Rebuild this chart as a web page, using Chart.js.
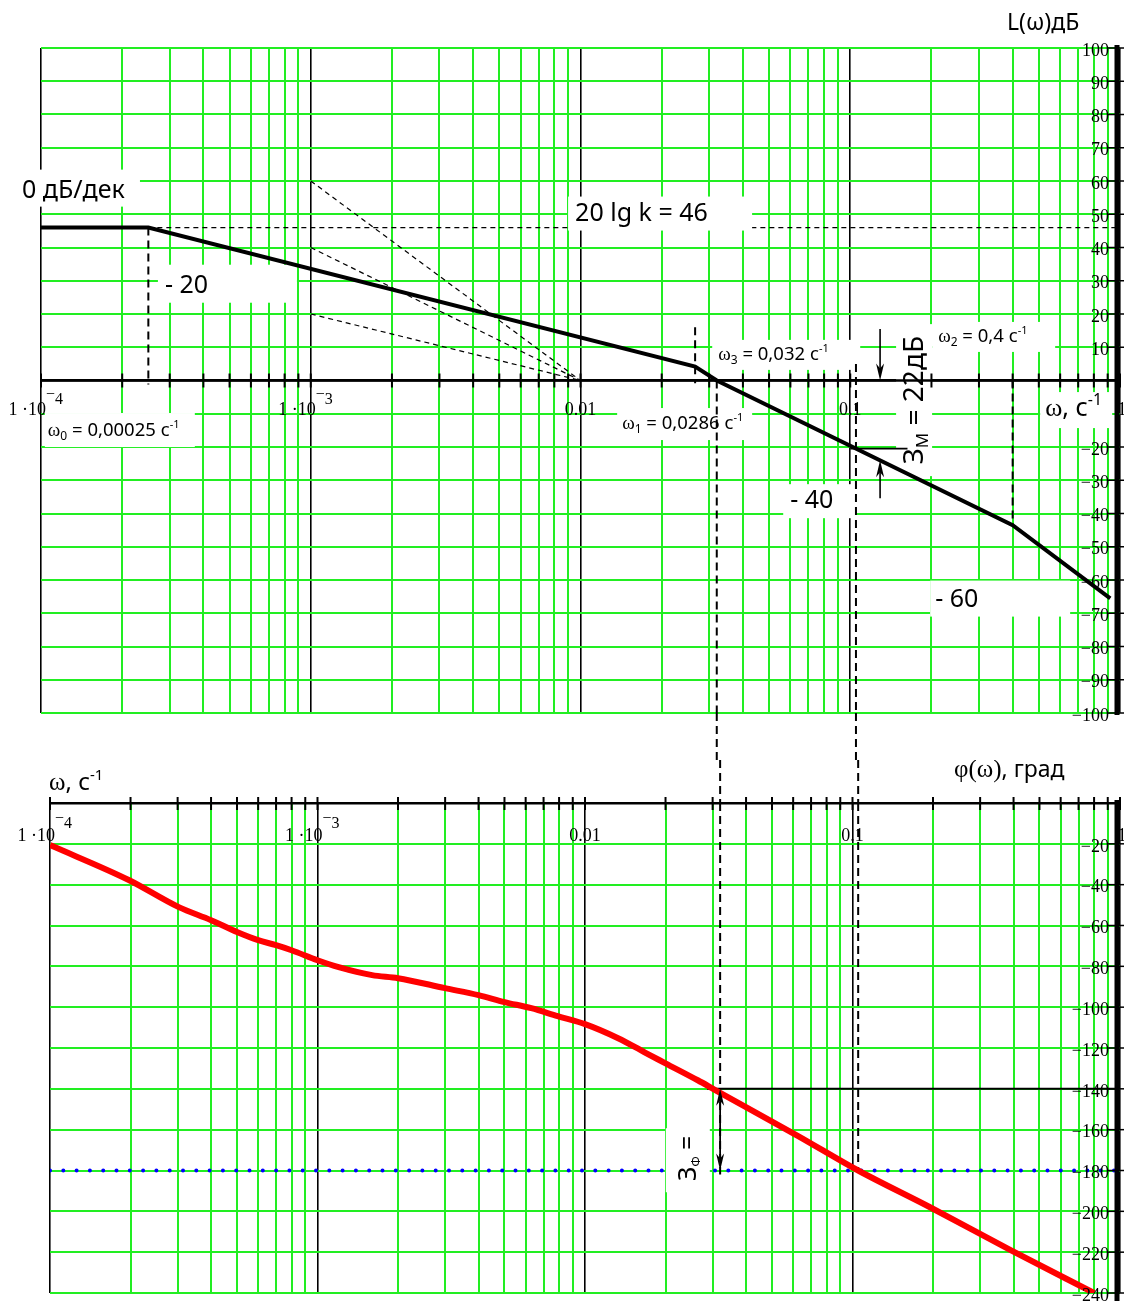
<!DOCTYPE html>
<html lang="ru">
<head>
<meta charset="utf-8">
<title>ЛАЧХ и ЛФЧХ</title>
<script src="https://cdn.jsdelivr.net/npm/chart.js@4.4.1/dist/chart.umd.min.js"></script>
<style>
  html, body { margin: 0; padding: 0; background: #fff; }
  body { width: 1124px; height: 1301px; position: relative; overflow: hidden; }
  canvas { position: absolute; left: 0; }
  #amp { top: 0; }
  #phase { top: 760px; }
</style>
</head>
<body>
<canvas id="amp" width="1124" height="760"></canvas>
<canvas id="phase" width="1124" height="541"></canvas>
<script>
// ---------- values ----------
// frequency axis (rad/s), decade labels
const decadeValues   = [1e-4, 1e-3, 1e-2, 1e-1, 1];
const decadeMantissa = ['1 ·10', '1 ·10', '0.01', '0.1', '1'];
const decadeExponent = ['−4', '−3', '', '', ''];

// amplitude axis labels, dB
const ampTickValues = [100, 90, 80, 70, 60, 50, 40, 30, 20, 10, -20, -30, -40, -50, -60, -70, -80, -90, -100];
// phase axis labels, degrees
const phaseTickValues = [-20, -40, -60, -80, -100, -120, -140, -160, -180, -200, -220, -240];

// asymptotic log-magnitude characteristic: corner points
const ampOmega = [1e-4, 0.00025, 0.0266, 0.032, 0.4, 0.92];
const ampDb    = [46, 46, 4.2, 0, -43.5, -65.5];

// log-phase characteristic
const phaseOmega = [1e-4, 1.97e-4, 3.03e-4, 4e-4, 5e-4, 6e-4, 7e-4, 8e-4, 1e-3, 1.2e-3, 1.6e-3, 2e-3,
                    3e-3, 4e-3, 5e-3, 6.3e-3, 7.9e-3, 0.01, 0.0133, 0.0167, 0.02, 0.0264, 0.0308,
                    0.0624, 0.105, 0.195, 0.39, 0.8];
const phaseDeg   = [-20.6, -37.7, -51.0, -57.4, -63.2, -67.2, -69.6, -72.1, -77.0, -80.4, -84.3, -85.8,
                    -90.7, -94.1, -97.5, -100.5, -104.4, -108.3, -115.2, -122.1, -127.5, -135.8, -140.7,
                    -163, -180, -198, -219, -240];

// characteristic frequencies and levels
const omega0    = 0.00025;
const omega1    = 0.0286;
const omegaKnee = 0.0266;
const omegaCut  = 0.032;
const omega2    = 0.4;
const omegaPi   = 0.105;
const gainDb    = 46;
const phaseAtCut = -140;
const slopeTemplates = [60, 40, 20];   // dB at 1e-3, all meeting 0 dB at 0.01

// ---------- styling ----------
const GREEN = '#22ee22';
const SERIF = '"Liberation Serif","Times New Roman",serif';
const SANS  = '"Noto Sans","Open Sans",sans-serif';
const BIG   = '25px ' + SANS;

const gridOmega = [];
for (let d = -4; d < 0; d++) for (let m = 1; m < 10; m++) gridOmega.push(m * Math.pow(10, d));
gridOmega.push(1);
const isDecade = v => Math.abs(Math.log10(v) - Math.round(Math.log10(v))) < 1e-9;

function logX() {
  return {
    type: 'logarithmic', min: 1e-4, max: 1,
    afterBuildTicks: s => { s.ticks = gridOmega.map(v => ({ value: v })); },
    afterFit: s => { s.height = 0; },
    ticks: { display: false },
    border: { display: false },
    grid: {
      drawTicks: false,
      color: c => (c.tick && isDecade(c.tick.value)) ? '#000' : GREEN,
      lineWidth: c => (c.tick && isDecade(c.tick.value)) ? 1.6 : 2
    }
  };
}
function linY(min, max, step) {
  const vals = [];
  for (let v = min; v <= max + 1e-9; v += step) vals.push(v);
  return {
    type: 'linear', min, max, position: 'right',
    afterBuildTicks: s => { s.ticks = vals.map(v => ({ value: v })); },
    afterFit: s => { s.width = 0; },
    ticks: { display: false },
    border: { display: false },
    grid: {
      drawTicks: false,
      color: c => (c.tick && c.tick.value === 0) ? '#000' : GREEN,
      lineWidth: c => (c.tick && c.tick.value === 0) ? 2.5 : 2
    }
  };
}

// ---------- drawing helpers ----------
function line(ctx, x1, y1, x2, y2) { ctx.beginPath(); ctx.moveTo(x1, y1); ctx.lineTo(x2, y2); ctx.stroke(); }
function richWidth(ctx, parts) {
  let w = 0;
  for (const p of parts) { ctx.font = p[1]; w += ctx.measureText(p[0]).width; }
  return w;
}
function drawRich(ctx, parts, x, y) {
  ctx.textAlign = 'left'; ctx.textBaseline = 'alphabetic'; ctx.fillStyle = '#000';
  let cx = x;
  for (const p of parts) { ctx.font = p[1]; ctx.fillText(p[0], cx, y + (p[2] || 0)); cx += ctx.measureText(p[0]).width; }
}
function arrowHead(ctx, x, y, dir) {
  ctx.beginPath();
  ctx.moveTo(x, y);
  ctx.lineTo(x - 4, y - dir * 17);
  ctx.lineTo(x, y - dir * 12);
  ctx.lineTo(x + 4, y - dir * 17);
  ctx.closePath(); ctx.fill();
}
function arrow(ctx, x, yFrom, yTo) {
  const dir = Math.sign(yTo - yFrom);
  line(ctx, x, yFrom, x, yTo - dir * 5);
  arrowHead(ctx, x, yTo, dir);
}
function drawLabel(ctx, xs, ys, l) {
  const px = xs.getPixelForValue(l.w), py = ys.getPixelForValue(l.v);
  ctx.save();
  ctx.fillStyle = '#fff';
  ctx.fillRect(px + l.box[0], py + l.box[1], l.box[2], l.box[3]);
  if (l.rotate) {
    ctx.translate(px, py);
    ctx.rotate(-Math.PI / 2);
    const w = richWidth(ctx, l.parts);
    drawRich(ctx, l.parts, -w / 2, l.shift || 0);
  } else {
    drawRich(ctx, l.parts, px, py);
  }
  ctx.restore();
}
function omegaParts(sub, value) {
  return [['ω', '19px ' + SERIF], [sub, '12px ' + SANS, 4], [' = ' + value + ' с', '18.5px ' + SANS], ['-1', '11px ' + SANS, -8]];
}
function drawDecadeLabels(ctx, xs, yBase, ySup, size) {
  decadeValues.forEach((v, i) => {
    const px = xs.getPixelForValue(v);
    ctx.fillStyle = '#000'; ctx.textBaseline = 'alphabetic';
    if (decadeExponent[i]) {
      ctx.font = size + 'px ' + SERIF; ctx.textAlign = 'right';
      ctx.fillText(decadeMantissa[i], px + 5, yBase);
      ctx.font = (size - 2) + 'px ' + SERIF; ctx.textAlign = 'left';
      const m = ctx.measureText('−').width;
      ctx.fillText('−', px + 5, ySup - 5);
      ctx.fillText(decadeExponent[i].slice(1), px + 5 + m, ySup);
    } else {
      ctx.font = size + 'px ' + SERIF; ctx.textAlign = 'center';
      ctx.fillText(decadeMantissa[i], px + (v === 1 ? 2 : 0), yBase);
    }
  });
}
function drawRightAxis(ctx, area, ys, values, yTop, yBottom) {
  const ax = area.right - 3;
  ctx.fillStyle = '#000'; ctx.strokeStyle = '#000';
  ctx.font = '18px ' + SERIF; ctx.textAlign = 'right'; ctx.textBaseline = 'middle';
  ctx.lineWidth = 1.5;
  values.forEach(v => {
    const py = ys.getPixelForValue(v);
    ctx.fillText(v < 0 ? '−' + Math.abs(v) : String(v), ax - 8, py + 3);
    line(ctx, ax - 9, py, ax + 8, py);
  });
  ctx.lineWidth = 5;
  line(ctx, ax, yTop, ax, yBottom);
}

// ---------- amplitude chart ----------
const ampLabels = [
  { w: 8.5e-5,  v: 55.0,  box: [-7, -28, 125, 37], parts: [['0 дБ/дек', BIG]] },
  { w: 2.88e-4, v: 26.4,  box: [-7, -28, 139, 38], parts: [['- 20', BIG]] },
  { w: 0.0599,  v: -38.4, box: [-7, -24, 72, 34],  parts: [['- 40', BIG]] },
  { w: 0.2064,  v: -68.0, box: [-5, -26, 140, 36], parts: [['- 60', BIG]] },
  { w: 1.06e-4, v: -16.7, box: [-3, -23, 150, 34], parts: omegaParts('0', '0,00025') },
  { w: 0.01427, v: -14.6, box: [-5, -21, 135, 32], parts: omegaParts('1', '0,0286') },
  { w: 0.0324,  v: 6.2,   box: [-6, -20, 148, 30], parts: omegaParts('3', '0,032') },
  { w: 0.2118,  v: 11.6,  box: [-6, -20, 123, 30], parts: omegaParts('2', '0,4') },
  { w: 0.528,   v: -10.7, box: [-5, -24, 72, 36],
    parts: [['ω', '26px ' + SERIF], [', с', '25px ' + SANS], ['-1', '16px ' + SANS, -11]] },
  { w: 0.171,   v: -5.9,  box: [-17, -76, 36, 152], rotate: true, shift: 10,
    parts: [['З', '28px ' + SANS], ['М', '17px ' + SANS, 5], [' = 22дБ', '28px ' + SANS]] }
];
const gainLabel = { w: 9.55e-3, v: 48.1, box: [-7, -24, 184, 34], parts: [['20 lg k = 46', BIG]] };

const pts = (ws, vs) => ws.map((w, i) => ({ x: w, y: vs[i] }));
const guide = (data, width, dash) => ({ data, borderColor: '#000', borderWidth: width, borderDash: dash, pointRadius: 0, fill: false });

const ampDecor = {
  id: 'ampDecor',
  beforeDatasetsDraw(chart) {
    const { ctx, scales: { x, y } } = chart;
    ampLabels.forEach(l => drawLabel(ctx, x, y, l));
  },
  afterDatasetsDraw(chart) {
    const { ctx, chartArea: a, scales: { x, y } } = chart;
    ctx.save();
    drawLabel(ctx, x, y, gainLabel);
    const y0 = y.getPixelForValue(0);
    ctx.strokeStyle = '#000';
    ctx.lineWidth = 2.5;
    line(ctx, a.left, y0, a.right, y0);
    ctx.lineWidth = 2;
    gridOmega.forEach(v => { const px = x.getPixelForValue(v); line(ctx, px, y0 - 7, px, y0 + 7); });
    drawDecadeLabels(ctx, x, y0 + 34, y0 + 23, 18);
    drawRightAxis(ctx, a, y, ampTickValues, a.top - 3, a.bottom + 2);

    // dashed links down to the phase chart
    ctx.strokeStyle = '#000'; ctx.lineWidth = 2; ctx.setLineDash([8, 5]);
    [omegaCut, omegaPi].forEach(w => { const px = x.getPixelForValue(w); line(ctx, px, a.bottom, px, chart.height); });
    ctx.setLineDash([]);

    // gain margin
    ctx.fillStyle = '#000'; ctx.lineWidth = 1.6;
    const mx = x.getPixelForValue(0.129);
    arrow(ctx, mx, y.getPixelForValue(15.5), y0);
    arrow(ctx, mx, y.getPixelForValue(-35.4), y.getPixelForValue(-24.0));
    line(ctx, x.getPixelForValue(0.1), y.getPixelForValue(-20.5), x.getPixelForValue(0.163), y.getPixelForValue(-20.5));

    // axis caption
    drawRich(ctx, [['L(ω)дБ', '23px ' + SANS]], a.right - 113, a.top - 18);
    ctx.restore();
  }
};

new Chart(document.getElementById('amp'), {
  type: 'line',
  data: {
    datasets: [
      { data: pts(ampOmega, ampDb), borderColor: '#000', borderWidth: 4, pointRadius: 0, fill: false },
      guide([{ x: omega0, y: gainDb }, { x: 1, y: gainDb }], 1.2, [5, 4]),
      guide([{ x: omega0, y: gainDb }, { x: omega0, y: -1.2 }], 2, [8, 5]),
      guide([{ x: omegaKnee, y: 16 }, { x: omegaKnee, y: -0.8 }], 2, [8, 5]),
      guide([{ x: omegaCut, y: 0 }, { x: omegaCut, y: -100 }], 2, [8, 5]),
      guide([{ x: omegaPi, y: 5 }, { x: omegaPi, y: -100 }], 2, [8, 5]),
      guide([{ x: omega2, y: 0 }, { x: omega2, y: -43.5 }], 2, [8, 5]),
      ...slopeTemplates.map(s => guide([{ x: 1e-3, y: s }, { x: 0.01, y: 0 }], 1.2, [5, 4]))
    ]
  },
  options: {
    responsive: false, animation: false, devicePixelRatio: 1, events: [],
    layout: { padding: { left: 41, right: 4, top: 48, bottom: 47 } },
    plugins: { legend: { display: false }, tooltip: { enabled: false } },
    scales: { x: logX(), y: linY(-100, 100, 10) }
  },
  plugins: [ampDecor]
});

// ---------- phase chart ----------
const phaseMarginLabel = { w: 0.02423, v: -174, box: [-22, -30, 44, 64], rotate: true, shift: 8,
  parts: [['З', '25px ' + SANS], ['Φ', '12px ' + SANS, 4], [' =', '25px ' + SANS]] };

const phaseDecor = {
  id: 'phaseDecor',
  afterDatasetsDraw(chart) {
    const { ctx, chartArea: a, scales: { x, y } } = chart;
    ctx.save();
    drawLabel(ctx, x, y, phaseMarginLabel);
    const yTop = y.getPixelForValue(0);
    ctx.strokeStyle = '#000';
    ctx.lineWidth = 2;
    line(ctx, a.left, yTop, a.right, yTop);
    gridOmega.forEach(v => { const px = x.getPixelForValue(v); line(ctx, px, yTop - 6, px, yTop + 7); });
    drawDecadeLabels(ctx, x, yTop + 38, yTop + 25, 18);
    drawRightAxis(ctx, a, y, phaseTickValues, yTop - 3, chart.height);

    // dashed links from the amplitude chart
    ctx.lineWidth = 2; ctx.setLineDash([8, 5]);
    [omegaCut, omegaPi].forEach(w => { const px = x.getPixelForValue(w); line(ctx, px, 0, px, yTop); });
    ctx.setLineDash([]);

    // phase margin arrow
    ctx.fillStyle = '#000'; ctx.lineWidth = 1.8;
    const cx = x.getPixelForValue(omegaCut);
    const y1 = y.getPixelForValue(phaseAtCut), y2 = y.getPixelForValue(-180);
    line(ctx, cx, y1 + 6, cx, y2 - 6);
    arrowHead(ctx, cx, y1, -1);
    arrowHead(ctx, cx, y2, 1);

    // axis captions
    drawRich(ctx, [['ω', '25px ' + SERIF], [', с', '24px ' + SANS], ['-1', '15px ' + SANS, -10]], a.left - 1, a.top - 13);
    drawRich(ctx, [['φ(ω)', '25px ' + SERIF], [', град', '23px ' + SANS]], a.right - 166, a.top - 26);
    ctx.restore();
  }
};

new Chart(document.getElementById('phase'), {
  type: 'line',
  data: {
    datasets: [
      { data: pts(phaseOmega, phaseDeg), borderColor: '#ff0000', borderWidth: 6, pointRadius: 0,
        cubicInterpolationMode: 'monotone', fill: false },
      { data: [{ x: 1e-4, y: -180 }, { x: 1, y: -180 }], borderColor: '#0000ff', borderWidth: 4,
        borderDash: [0, 13.3], borderCapStyle: 'round', pointRadius: 0, fill: false },
      guide([{ x: omega1, y: phaseAtCut }, { x: 1, y: phaseAtCut }], 2, []),
      guide([{ x: omegaCut, y: 0 }, { x: omegaCut, y: -182 }], 2, [8, 5]),
      guide([{ x: omegaPi, y: 0 }, { x: omegaPi, y: -180 }], 2, [8, 5])
    ]
  },
  options: {
    responsive: false, animation: false, devicePixelRatio: 1, events: [],
    layout: { padding: { left: 50, right: 4, top: 43, bottom: 8 } },
    plugins: { legend: { display: false }, tooltip: { enabled: false } },
    scales: { x: logX(), y: linY(-240, 0, 20) }
  },
  plugins: [phaseDecor]
});
</script>
</body>
</html>
